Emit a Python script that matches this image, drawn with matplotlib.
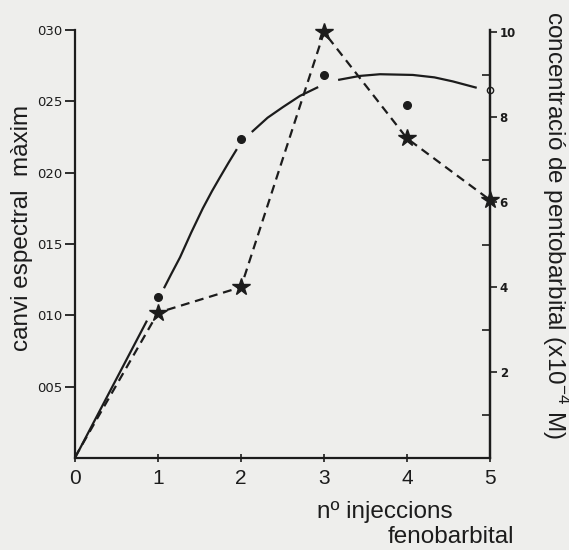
import numpy as np
import matplotlib
matplotlib.use("Agg")
import matplotlib.pyplot as plt

nan = np.nan

# ---- data ----
injections = [0, 1, 2, 3, 4, 5]
x_ticks = [0, 1, 2, 3, 4, 5]
x_ticklabels = ["0", "1", "2", "3", "4", "5"]

left_ticks = [0.05, 0.10, 0.15, 0.20, 0.25, 0.30]
left_ticklabels = ["005", "010", "015", "020", "025", "030"]

right_major = [2, 4, 6, 8, 10]
right_major_labels = ["2", "4", "6", "8", "10"]
right_minor = [1, 3, 5, 7, 9]

# spectral change (filled circles) and open circle at x=5
dots_x = [1, 2, 3, 4]
dots_y = [0.113, 0.2235, 0.2685, 0.2475]
open_x = [5]
open_y = [0.258]

# hand-drawn smooth curve (broken around the dots)
curve_x = [0, 0.45, 0.867, nan, 1.072, 1.16, 1.265, 1.40, 1.54, 1.65, 1.747, 1.85, 1.95, nan,
           2.13, 2.32, 2.506, 2.71, 2.93, nan, 3.17, 3.43, 3.675, 4.07, 4.33, 4.55, 4.84]
curve_y = [0.0, 0.050, 0.0963, nan, 0.119, 0.129, 0.1406, 0.158, 0.175, 0.187, 0.1968, 0.207, 0.2165, nan,
           0.2285, 0.2385, 0.246, 0.2538, 0.260, nan, 0.265, 0.2678, 0.269, 0.2685, 0.2668, 0.264, 0.2595]

# pentobarbital concentration (stars, right axis, x10^-4 M)
pento = [0, 3.4, 4.0, 10.0, 7.5, 6.05]

bg = "#eeeeec"
ink = "#1c1c1c"

fig = plt.figure(figsize=(5.69, 5.50), dpi=100, facecolor=bg)
ax = fig.add_axes([75/569, 1 - 458/550, (490 - 75)/569, (458 - 30)/550])
ax.set_facecolor(bg)
ax.set_xlim(0, 5)
ax.set_ylim(0, 0.30)

ax.spines["top"].set_visible(False)
for s in ["left", "bottom", "right"]:
    ax.spines[s].set_color(ink)
    ax.spines[s].set_linewidth(1.6)

ax.plot(curve_x, curve_y, color=ink, lw=1.6, solid_capstyle="butt")
ax.plot(dots_x, dots_y, "o", color=ink, ms=5.5, zorder=4)
ax.plot(open_x, open_y, "o", mfc=bg, mec=ink, ms=4.5, mew=1.0, zorder=5, clip_on=False)

ax.set_xticks(x_ticks)
ax.set_xticklabels(x_ticklabels, fontsize=15, family="Liberation Sans", color=ink)
ax.tick_params(axis="x", direction="inout", length=6, width=1.2, pad=5, colors=ink)
ax.set_yticks(left_ticks)
ax.set_yticklabels(left_ticklabels, fontsize=9.5, family="DejaVu Sans", color=ink)
ax.tick_params(axis="y", direction="out", length=7, width=1.3, pad=2, colors=ink)

ax2 = ax.twinx()
ax2.set_ylim(-0.02, 10.05)
for s in ["top", "left", "bottom"]:
    ax2.spines[s].set_visible(False)
ax2.spines["right"].set_color(ink)
ax2.spines["right"].set_linewidth(1.6)
ax2.plot(injections, pento, color=ink, lw=1.6, dashes=(4, 2.6),
         marker="*", ms=13, mfc=ink, mec=ink, markevery=[1, 2, 3, 4, 5],
         clip_on=False, zorder=5)
ax2.set_yticks(right_major)
ax2.set_yticklabels(right_major_labels, fontsize=8.5, family="DejaVu Sans",
                    fontweight="bold", color=ink)
ax2.set_yticks(right_minor, minor=True)
ax2.tick_params(axis="y", which="major", direction="out", length=5, width=1.2, pad=2, colors=ink)
ax2.tick_params(axis="y", which="minor", direction="in", length=6, width=1.2, colors=ink)

plt.rcParams["mathtext.fontset"] = "custom"
plt.rcParams["mathtext.rm"] = "Liberation Sans"

fig.text(22/569, 1 - 228/550, "canvi espectral  màxim", rotation=90,
         ha="center", va="center", fontsize=17.5, family="Liberation Sans", color=ink)
fig.text(555/569, 1 - 225/550, "concentració de pentobarbital (x10$^{-4}$ M)",
         rotation=-90, ha="center", va="center", fontsize=17.5, family="Liberation Sans",
         color=ink)
fig.text(317/569, 1 - 512/550, "nº injeccions", ha="left", va="center",
         fontsize=17.5, family="Liberation Sans", color=ink)
fig.text(388/569, 1 - 537/550, "fenobarbital", ha="left", va="center",
         fontsize=17.5, family="Liberation Sans", color=ink)

fig.savefig("out.png", dpi=100, facecolor=bg)
